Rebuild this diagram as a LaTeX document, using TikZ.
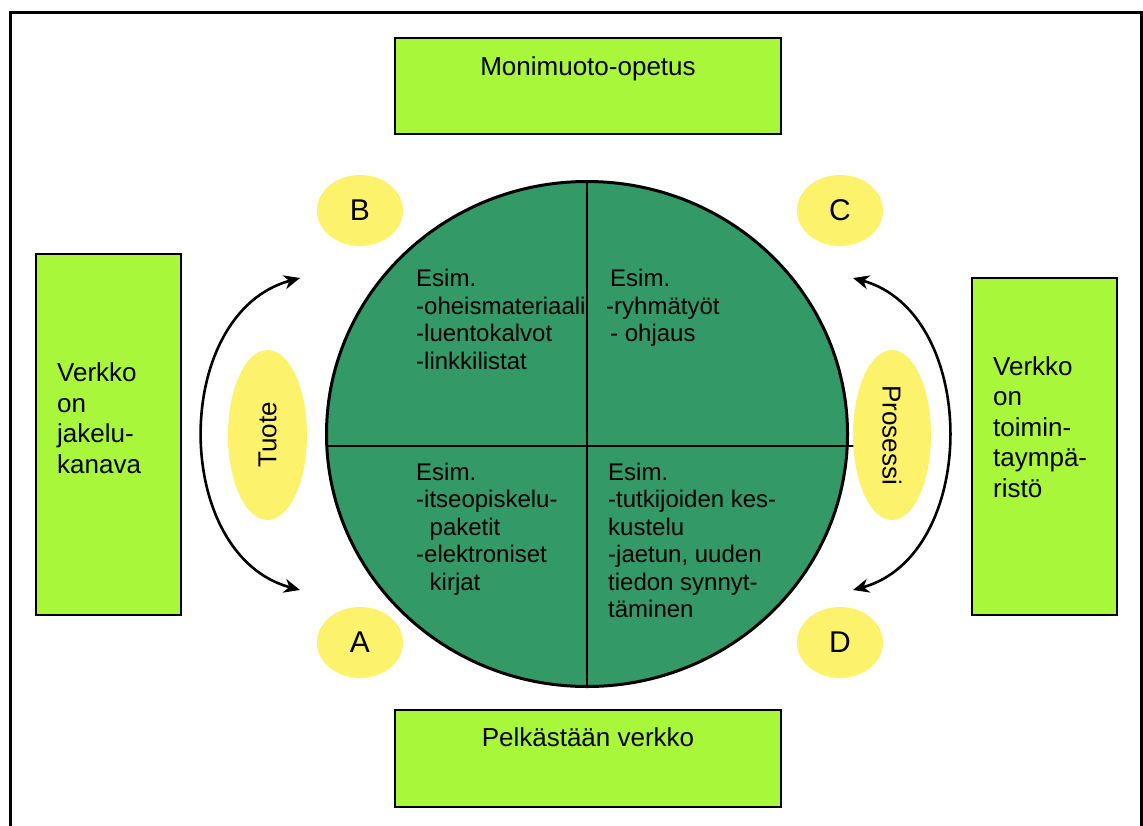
\documentclass[tikz,border=0pt]{standalone}
\usepackage{fontspec}
\setmainfont{Liberation Sans}
\usetikzlibrary{shapes.geometric,arrows.meta}
\definecolor{boxgreen}{RGB}{168,247,58}
\definecolor{discgreen}{RGB}{51,153,102}
\definecolor{tagyellow}{RGB}{253,242,108}
\begin{document}
\begin{tikzpicture}[x=1pt,y=-1pt,
  greenbox/.style={draw=black, line width=1.5pt, fill=boxgreen, inner sep=0pt},
  tag/.style={ellipse, fill=tagyellow, inner sep=0pt},
  quad/.style={anchor=base west, inner sep=0pt, font=\fontsize{24}{27.5}\selectfont},
  side/.style={anchor=base west, inner sep=0pt, font=\fontsize{26}{30.6}\selectfont},
  title/.style={anchor=base, inner sep=0pt, font=\fontsize{26}{30}\selectfont},
  letter/.style={font=\fontsize{30}{34}\selectfont},
  swing/.style={line width=2.6pt,
    {Stealth[length=16pt,width=14pt,inset=5pt]}-{Stealth[length=16pt,width=14pt,inset=5pt]}},
]
\useasboundingbox (0,0) rectangle (1143,825);
\fill[white] (0,0) rectangle (1143,825);

% outer frame, open at the bottom
\draw[line width=3pt] (10.5,830) -- (10.5,12.5) -- (1141,12.5) -- (1141,830);

% top and bottom boxes
\node[greenbox, minimum width=386pt, minimum height=96pt] (topbox) at (588,86) {};
\node[title] (toptext) at (588,75) {Monimuoto-opetus};
\node[greenbox, minimum width=386pt, minimum height=97pt] (botbox) at (588,758.5) {};
\node[title] (bottext) at (588,746) {Pelkästään verkko};

% side boxes
\node[greenbox, minimum width=145pt, minimum height=361pt] (leftbox) at (108.5,434.5) {};
\node[side] (lefttext) at (57,381.7)
  {\begin{tabular}[t]{@{}l@{}}Verkko\\on\\jakelu-\\kanava\end{tabular}};
\node[greenbox, minimum width=145pt, minimum height=337pt] (rightbox) at (1044.5,446.5) {};
\node[side] (righttext) at (993,375)
  {\begin{tabular}[t]{@{}l@{}}Verkko\\on\\toimin-\\taympä-\\ristö\end{tabular}};

% central disc split into four quadrants
\node[ellipse, draw=black, line width=3pt, fill=discgreen, inner sep=0pt,
      minimum width=521pt, minimum height=505pt] (disc) at (587,434) {};
\draw[line width=1.5pt] (disc.north) -- (disc.south);
\coordinate (hw) at (326.8,446);
\coordinate (he) at (860,446);
\draw[line width=1.5pt] (hw) -- (he);

\node[quad] (q1) at (416,286.7)
  {\begin{tabular}[t]{@{}l@{}}Esim.\\-oheismateriaali\\-luentokalvot\\-linkkilistat\end{tabular}};
\node[quad] (q2) at (606,286.7)
  {\begin{tabular}[t]{@{}l@{}}\hspace{4pt}Esim.\\-ryhmätyöt\\\hspace{4pt}- ohjaus\end{tabular}};
\node[quad] (q3) at (416,480)
  {\begin{tabular}[t]{@{}l@{}}Esim.\\-itseopiskelu-\\\hspace{13.5pt}paketit\\-elektroniset\\\hspace{13.5pt}kirjat\end{tabular}};
\node[quad] (q4) at (608,480)
  {\begin{tabular}[t]{@{}l@{}}Esim.\\-tutkijoiden kes-\\kustelu\\-jaetun, uuden\\tiedon synnyt-\\täminen\end{tabular}};

% corner tags
\node[tag, letter, minimum width=86pt, minimum height=71pt] (tagB) at (360,210.5) {B};
\node[tag, letter, minimum width=86pt, minimum height=71pt] (tagC) at (840,210.5) {C};
\node[tag, letter, minimum width=86pt, minimum height=71pt] (tagA) at (360,642.5) {A};
\node[tag, letter, minimum width=86pt, minimum height=71pt] (tagD) at (840,642.5) {D};

% side tags
\node[tag, minimum width=79pt, minimum height=170pt] (tuote) at (267.5,435) {};
\node[rotate=90, font=\fontsize{26}{30}\selectfont] (tuotetext) at (tuote.center) {Tuote};
\node[tag, minimum width=78pt, minimum height=170pt] (prosessi) at (892,435) {};
\node[rotate=-90, font=\fontsize{26}{30}\selectfont] (prosessitext) at (prosessi.center) {Prosessi};

% curved double arrows
\coordinate (lt) at (300,278);
\coordinate (lb) at (300,590);
\coordinate (rt) at (853,278);
\coordinate (rb) at (853,590);
\draw[swing] (lt) .. controls (170.7,313) and (170.7,555) .. (lb);
\draw[swing] (rt) .. controls (979.7,313) and (979.7,555) .. (rb);
\end{tikzpicture}
\end{document}
